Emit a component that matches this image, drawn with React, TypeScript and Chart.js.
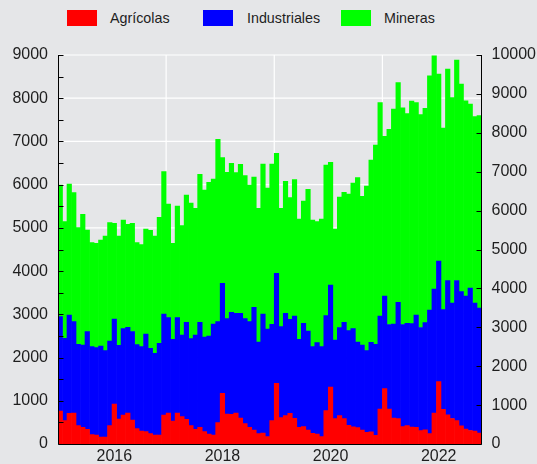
import React, { useEffect, useRef } from 'react';
import { Chart, registerables } from 'chart.js';

Chart.register(...registerables);

// Monthly categories Jan 2015 .. Oct 2022
const months: string[] = [];
for (let i = 0; i < 94; i++) {
  const yr = 2015 + Math.floor(i / 12);
  const m = (i % 12) + 1;
  months.push(`${yr}-${m < 10 ? '0' + m : m}`);
}

const yearTickLabels = ['2016', '2018', '2020', '2022'];
const gridYears = ['2017', '2019', '2021'];
const leftTicks = [0, 1000, 2000, 3000, 4000, 5000, 6000, 7000, 8000, 9000];
const leftMinorTicks = [500, 1500, 2500, 3500, 4500, 5500, 6500, 7500, 8500];
const rightTicks = [0, 1000, 2000, 3000, 4000, 5000, 6000, 7000, 8000, 9000, 10000];

const agricolas = [
  763, 540, 710, 717, 424, 386, 339, 216, 208, 162,
  162, 424, 925, 578, 671, 717, 555, 355, 300, 285,
  239, 208, 208, 671, 717, 532, 717, 632, 571, 424,
  339, 386, 285, 231, 208, 494, 1172, 694, 686, 717,
  602, 470, 386, 324, 239, 254, 170, 540, 1404, 609,
  655, 709, 594, 386, 401, 324, 247, 231, 170, 771,
  1319, 586, 655, 586, 432, 400, 378, 324, 270, 280,
  200, 810, 1280, 810, 598, 586, 401, 424, 393, 386,
  310, 328, 239, 714, 1442, 800, 675, 590, 540, 420,
  343, 312, 300, 255,
];

const industriales = [
  2183, 1905, 2275, 2113, 1882, 1904, 2260, 2036, 2021, 2105,
  1997, 1959, 1967, 1705, 1997, 1982, 2044, 1943, 1952, 2260,
  1974, 1890, 2121, 2337, 2206, 1890, 2206, 1890, 2244, 2013,
  2183, 2429, 2191, 2268, 2568, 2336, 2545, 2206, 2360, 2306,
  2421, 2430, 2444, 2838, 2121, 2754, 2491, 2229, 2545, 2106,
  2368, 2175, 2367, 2036, 2391, 2290, 2005, 2113, 2082, 2198,
  2360, 1820, 2036, 2229, 2190, 2270, 1982, 1966, 1889, 2072,
  2106, 2148, 2140, 1955, 2178, 2689, 2364, 2368, 2392, 2594,
  2385, 2480, 2858, 2873, 2789, 2308, 3105, 2673, 3243, 3105,
  3078, 3294, 2958, 2892,
];

const mineras = [
  3046, 2699, 3030, 2985, 2699, 3023, 2352, 2406, 2414, 2453,
  2653, 2738, 2213, 2529, 2514, 2383, 2506, 2360, 2360, 2429,
  2730, 2714, 2915, 3293, 2630, 2221, 2583, 2529, 2946, 3139,
  2930, 3424, 3401, 3555, 3355, 4219, 2908, 3385, 3448, 3255,
  3447, 3308, 3162, 3015, 3092, 3470, 3262, 3709, 2776, 2737,
  3054, 2815, 3155, 2784, 2830, 3278, 2930, 2800, 2954, 3486,
  2838, 2568, 3024, 3008, 3162, 3369, 3802, 3440, 3810, 4219,
  4612, 4939, 3698, 4515, 4975, 5085, 5013, 4855, 5148, 4917,
  4925, 4959, 5422, 5394, 4330, 4200, 4893, 4750, 5102, 4805,
  4519, 4261, 4315, 4450,
];

const FONT = "'Liberation Sans', Arial, Helvetica, sans-serif";
const TEXT = '#1e1e1e';
const BG = '#e5e6e8';

const gridPlugin = {
  id: 'customGrid',
  beforeDatasetsDraw(chart: any) {
    const { ctx, chartArea: a, scales } = chart;
    const y = scales.y;
    const x = scales.x;
    const slot = x.getPixelForValue(1) - x.getPixelForValue(0);
    ctx.save();
    ctx.strokeStyle = '#ffffff';
    ctx.lineWidth = 1.2;
    for (const v of leftTicks) {
      const py = y.getPixelForValue(v);
      ctx.beginPath();
      ctx.moveTo(a.left, py);
      ctx.lineTo(a.right, py);
      ctx.stroke();
    }
    for (const yr of gridYears) {
      const idx = months.indexOf(`${yr}-01`);
      const px = x.getPixelForValue(idx) - slot / 2;
      ctx.beginPath();
      ctx.moveTo(px, a.top);
      ctx.lineTo(px, a.bottom);
      ctx.stroke();
    }
    ctx.restore();
  },
  afterDatasetsDraw(chart: any) {
    const { ctx, chartArea: a, scales } = chart;
    const y = scales.y;
    const y2 = scales.y2;
    ctx.save();
    ctx.strokeStyle = '#000000';
    ctx.lineWidth = 1;
    const L = Math.round(a.left) + 0.5;
    const R = Math.round(a.right) - 0.5;
    const B = Math.round(a.bottom) + 0.5;
    ctx.beginPath();
    ctx.moveTo(L, a.top);
    ctx.lineTo(L, B);
    ctx.lineTo(R, B);
    ctx.lineTo(R, a.top);
    ctx.stroke();
    ctx.beginPath();
    for (const v of [...leftTicks, ...leftMinorTicks]) {
      const py = Math.round(y.getPixelForValue(v)) + 0.5;
      ctx.moveTo(L, py);
      ctx.lineTo(L + 5, py);
    }
    for (const v of rightTicks) {
      const py = Math.round(y2.getPixelForValue(v)) + 0.5;
      ctx.moveTo(R, py);
      ctx.lineTo(R - 5, py);
    }
    ctx.stroke();
    ctx.restore();
  },
};

export default function App() {
  const canvasRef = useRef<HTMLCanvasElement | null>(null);

  useEffect(() => {
    const canvas = canvasRef.current;
    if (!canvas) return;
    const tickFont = { family: FONT, size: 16 };
    const plain = (v: any) => String(v);
    const chart = new Chart(canvas, {
      type: 'bar',
      data: {
        labels: months,
        datasets: [
          { label: 'Agrícolas', data: agricolas, backgroundColor: '#ff0000', borderWidth: 0, barPercentage: 1, categoryPercentage: 1, yAxisID: 'y' },
          { label: 'Industriales', data: industriales, backgroundColor: '#0000ff', borderWidth: 0, barPercentage: 1, categoryPercentage: 1, yAxisID: 'y' },
          { label: 'Mineras', data: mineras, backgroundColor: '#00ff00', borderWidth: 0, barPercentage: 1, categoryPercentage: 1, yAxisID: 'y' },
        ],
      },
      options: {
        animation: false,
        responsive: false,
        maintainAspectRatio: false,
        devicePixelRatio: 1,
        layout: { padding: { top: 55, left: 0, right: 0, bottom: 0 } },
        plugins: { legend: { display: false }, tooltip: { enabled: false } },
        scales: {
          x: {
            type: 'category',
            stacked: true,
            offset: true,
            grid: { display: false, drawTicks: false },
            border: { display: false },
            ticks: {
              autoSkip: false,
              maxRotation: 0,
              minRotation: 0,
              padding: 3,
              font: tickFont,
              color: TEXT,
              callback: (_v: any, i: number) => {
                const [yr, m] = months[i].split('-');
                return m === '01' && yearTickLabels.includes(yr) ? yr : '';
              },
            },
            afterFit: (s: any) => { s.height = 20; },
          },
          y: {
            stacked: true,
            position: 'left',
            min: 0,
            max: 9000,
            grid: { display: false, drawTicks: false },
            border: { display: false },
            ticks: { stepSize: 1000, padding: 10, font: tickFont, color: TEXT, callback: plain },
            afterFit: (s: any) => { s.width = 58; },
          },
          y2: {
            position: 'right',
            min: 0,
            max: 10000,
            grid: { display: false, drawTicks: false },
            border: { display: false },
            ticks: { stepSize: 1000, padding: 10, font: tickFont, color: TEXT, callback: plain },
            afterFit: (s: any) => { s.width = 55.5; },
          },
        },
      },
      plugins: [gridPlugin],
    } as any);
    return () => chart.destroy();
  }, []);

  const legend = [
    { label: 'Agrícolas', color: '#ff0000', box: 67, text: 110 },
    { label: 'Industriales', color: '#0000ff', box: 203, text: 247 },
    { label: 'Mineras', color: '#00ff00', box: 341, text: 384 },
  ];

  return (
    <div style={{ position: 'fixed', left: 0, top: 0, width: 537, height: 464, background: BG, overflow: 'hidden' }}>
      {legend.map((it) => (
        <React.Fragment key={it.label}>
          <div style={{ position: 'absolute', left: it.box, top: 10, width: 30, height: 16, background: it.color }} />
          <div style={{ position: 'absolute', left: it.text, top: 9, height: 18, lineHeight: '18px', fontFamily: FONT, fontSize: 14.3, color: TEXT, whiteSpace: 'nowrap' }}>{it.label}</div>
        </React.Fragment>
      ))}
      <canvas ref={canvasRef} width={537} height={464} style={{ position: 'absolute', left: 0, top: 0, width: 537, height: 464 }} />
    </div>
  );
}
